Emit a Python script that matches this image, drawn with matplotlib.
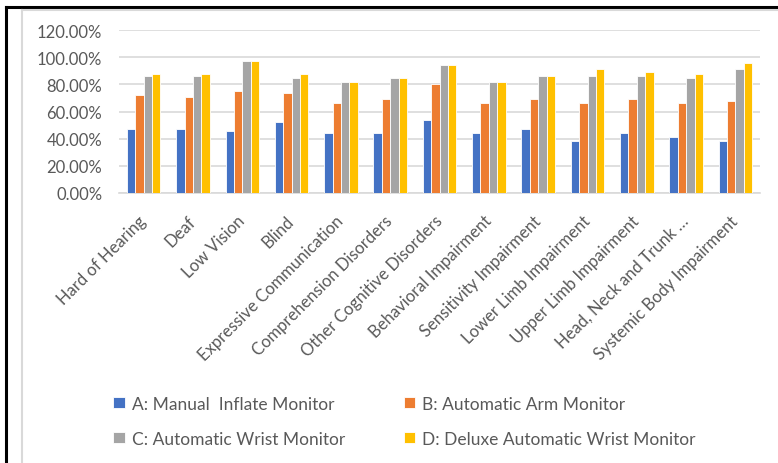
import numpy as np
from matplotlib import pyplot as plt
from matplotlib.lines import Line2D
from matplotlib.ticker import FuncFormatter

categories = ['Hard of Hearing', 'Deaf', 'Low Vision', 'Blind',
              'Expressive Communication', 'Comprehension Disorders',
              'Other Cognitive Disorders', 'Behavioral Impairment',
              'Sensitivity Impairment', 'Lower Limb Impairment',
              'Upper Limb Impairment', 'Head, Neck and Trunk …',
              'Systemic Body Impairment']

manual_inflate = [47.3, 47.3, 45.7, 52.0, 44.2, 44.2, 53.5, 44.2, 47.3, 38.0, 44.2, 41.0, 38.0]
automatic_arm = [72.2, 70.7, 75.3, 73.6, 66.0, 69.2, 80.0, 66.0, 69.2, 66.0, 69.2, 66.0, 67.5]
automatic_wrist = [86.2, 86.2, 97.2, 84.7, 81.7, 84.7, 94.0, 81.7, 86.2, 86.2, 86.2, 84.7, 91.1]
deluxe_wrist = [87.9, 87.9, 97.2, 87.9, 81.7, 84.7, 94.0, 81.7, 86.2, 91.1, 89.3, 87.9, 95.7]

series_names = ['A: Manual  Inflate Monitor', 'B: Automatic Arm Monitor',
                'C: Automatic Wrist Monitor', 'D: Deluxe Automatic Wrist Monitor']
colors = ['#4472C4', '#ED7D31', '#A5A5A5', '#FFC000']

plt.rcParams['font.family'] = ['Lato', 'DejaVu Sans']

fig = plt.figure(figsize=(7.78, 4.64), dpi=100)
ax = fig.add_axes([0.153, 0.582, 0.824, 0.351])

x = np.arange(len(categories))
w = 0.17
data = [manual_inflate, automatic_arm, automatic_wrist, deluxe_wrist]
bars = []
for i, (vals, name, c) in enumerate(zip(data, series_names, colors)):
    b = ax.bar(x + (i - 1.5) * w, vals, w, color=c, edgecolor='white',
               linewidth=0.6, label=name, zorder=3)
    bars.append(b)

ax.set_xlim(-0.5, len(categories) - 0.5)
ax.set_ylim(0, 120)
ax.set_yticks(np.arange(0, 121, 20))
ax.yaxis.set_major_formatter(FuncFormatter(lambda v, p: '%.2f%%' % v))
ax.grid(axis='y', color='#d9d9d9', linewidth=1.2, zorder=0)
for s in ['top', 'right', 'left']:
    ax.spines[s].set_visible(False)
ax.spines['bottom'].set_color('#d9d9d9')
ax.spines['bottom'].set_linewidth(1.2)
ax.tick_params(axis='y', length=0, pad=12, labelsize=12, labelcolor='#595959')
ax.tick_params(axis='x', length=0, pad=18, labelsize=12, labelcolor='#595959')
ax.set_xticks(x)
ax.set_xticklabels(categories, rotation=45, ha='right', va='center',
                   rotation_mode='anchor')

# row-major legend order: A B / C D
order = [0, 2, 1, 3]
fig.legend([bars[i] for i in order], [series_names[i] for i in order],
           loc='center', ncol=2, bbox_to_anchor=(0.52, 0.09),
           frameon=False, fontsize=12.5, labelcolor='#595959',
           handlelength=0.65, handleheight=0.65, handletextpad=0.4,
           columnspacing=3.4, labelspacing=1.1)

# outer frames
fig.add_artist(Line2D([6 / 778, 6 / 778], [0, 456 / 464], color='black', linewidth=2.2))
fig.add_artist(Line2D([6 / 778, 1], [456 / 464, 456 / 464], color='black', linewidth=2.2))
fig.add_artist(Line2D([22 / 778, 22 / 778], [0, 453 / 464], color='#d9d9d9', linewidth=1.5))
fig.add_artist(Line2D([22 / 778, 1], [453 / 464, 453 / 464], color='#d9d9d9', linewidth=1.5))

fig.savefig('out.png', dpi=100)
